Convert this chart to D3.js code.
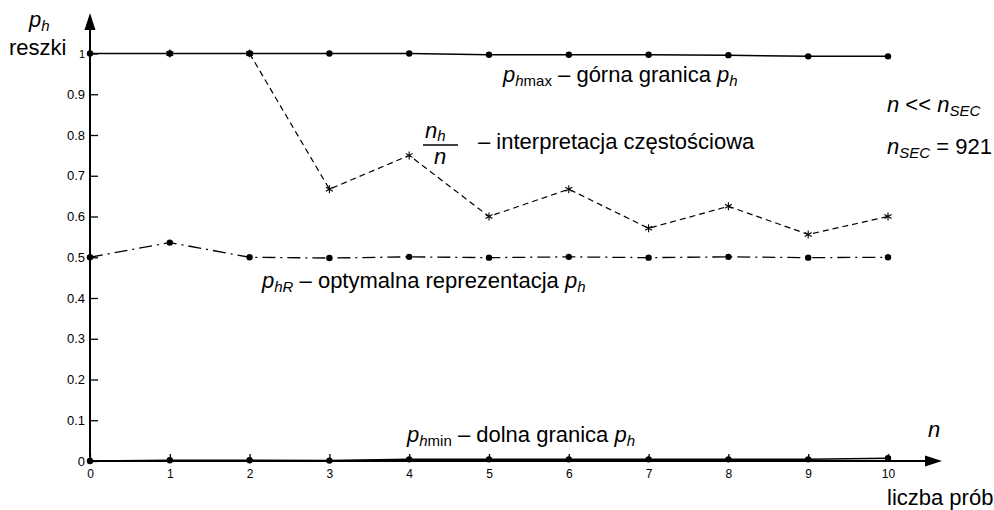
<!DOCTYPE html>
<html>
<head>
<meta charset="utf-8">
<script src="https://cdn.jsdelivr.net/npm/d3@7"></script>
<style>
  body { margin: 0; background: #fff; }
  svg { font-family: "Liberation Sans", Arial, sans-serif; }
</style>
</head>
<body>
<div id="chart"></div>
<script>
// data
var trials = [0, 1, 2, 3, 4, 5, 6, 7, 8, 9, 10];
var phMax = [1, 1, 1, 1, 1, 0.997, 0.997, 0.997, 0.996, 0.993, 0.993];
var freqN = [1, 2, 3, 4, 5, 6, 7, 8, 9, 10];
var freq = [1, 1, 0.667, 0.75, 0.6, 0.667, 0.571, 0.625, 0.556, 0.6];
var phR = [0.5, 0.536, 0.5, 0.498, 0.501, 0.499, 0.501, 0.499, 0.501, 0.499, 0.5];
var phMin = [0, 0.002, 0.002, 0.001, 0.004, 0.004, 0.004, 0.004, 0.004, 0.004, 0.007];
var yTicks = [0, 0.1, 0.2, 0.3, 0.4, 0.5, 0.6, 0.7, 0.8, 0.9, 1];

var width = 994, height = 510;
var svg = d3.select("#chart").append("svg").attr("width", width).attr("height", height);

// scales
var xScale = d3.scaleLinear().domain([0, 10]).range([90, 888]);
var yScale = d3.scaleLinear().domain([0, 1]).range([461, 53.5]);

//y axis, ticks pointing inside
var yAxis = svg.append("g")
  .attr("transform", "translate(90,0)")
  .call(d3.axisLeft(yScale).tickValues(yTicks).tickSizeInner(-8).tickSizeOuter(0)
    .tickPadding(5).tickFormat(function(d) { return d3.format("~g")(d); }));
yAxis.select(".domain").remove();
yAxis.selectAll("text").attr("font-size", 13).attr("font-family", null).attr("fill", "#000");
yAxis.selectAll("line").attr("stroke-width", 1.3);
yAxis.selectAll(".tick").filter(function(d) { return d === 1; }).select("text").attr("font-size", 11);

//x axis
var xAxis = svg.append("g")
  .attr("transform", "translate(0,461)")
  .call(d3.axisBottom(xScale).tickValues(trials).tickSizeInner(-7).tickSizeOuter(0).tickPadding(8));
xAxis.select(".domain").remove();
xAxis.selectAll("text").attr("font-size", 12).attr("font-family", null).attr("fill", "#000");
xAxis.selectAll("line").attr("stroke-width", 1.3);

// axis lines with arrows
svg.append("line").attr("x1", 90).attr("x2", 90).attr("y1", 461).attr("y2", 24)
  .attr("stroke", "#000").attr("stroke-width", 2);
svg.append("path").attr("d", "M90,13 L84.5,30 L95.5,30 Z").attr("fill", "#000");
svg.append("line").attr("x1", 90).attr("x2", 930).attr("y1", 461).attr("y2", 461)
  .attr("stroke", "#000").attr("stroke-width", 2);
svg.append("path").attr("d", "M942,461 L925,455.5 L925,466.5 Z").attr("fill", "#000");

var line = d3.line().x(function(d, i) { return xScale(trials[i]); }).y(function(d) { return yScale(d); });
var freqLine = d3.line().x(function(d, i) { return xScale(freqN[i]); }).y(function(d) { return yScale(d); });

// p_hmin
svg.append("path").datum(phMin).attr("fill", "none").attr("stroke", "#000")
  .attr("stroke-width", 1.5).attr("d", line);
// p_hmax
svg.append("path").datum(phMax).attr("fill", "none").attr("stroke", "#000")
  .attr("stroke-width", 1.5).attr("d", line);
// p_hR dash dot
svg.append("path").datum(phR).attr("fill", "none").attr("stroke", "#000")
  .attr("stroke-width", 1.3).attr("stroke-dasharray", "13,5,2,5").attr("d", line);
// n_h/n dashed
svg.append("path").datum(freq).attr("fill", "none").attr("stroke", "#000")
  .attr("stroke-width", 1.2).attr("stroke-dasharray", "6,4").attr("d", freqLine);

// dots
[phMin, phMax, phR].forEach(function(series) {
  svg.append("g").selectAll("circle").data(series).enter().append("circle")
    .attr("cx", function(d, i) { return xScale(trials[i]); })
    .attr("cy", function(d) { return yScale(d); })
    .attr("r", 3.2).attr("fill", "#000");
});

// asterisk markers
var star = svg.append("g").selectAll("g").data(freq).enter().append("g")
  .attr("transform", function(d, i) { return "translate(" + xScale(freqN[i]) + "," + yScale(d) + ")"; });
[0, 60, 120].forEach(function(a) {
  star.append("line").attr("x1", 0).attr("x2", 0).attr("y1", -4).attr("y2", 4)
    .attr("transform", "rotate(" + a + ")").attr("stroke", "#000").attr("stroke-width", 1.1);
});

// labels
function label(x, y, parts, size) {
  var t = svg.append("text").attr("x", x).attr("y", y).attr("font-size", size || 22).attr("fill", "#000");
  parts.forEach(function(p) {
    var s = t.append("tspan").text(p.t);
    if (p.i) s.attr("font-style", "italic");
    if (p.sub) s.attr("font-size", p.sub).attr("dy", p.dy);
    if (p.up) s.attr("dy", p.up);
  });
  return t;
}

label(29, 27, [{t: "p", i: 1}, {t: "h", i: 1, sub: 15, dy: 4}]);
label(9, 55, [{t: "reszki"}]);

label(503, 82, [{t: "p", i: 1}, {t: "h", i: 1, sub: 15, dy: 4}, {t: "max", sub: 15},
  {t: " – górna granica ", up: -4}, {t: "p", i: 1}, {t: "h", i: 1, sub: 15, dy: 4}]);

label(262, 288, [{t: "p", i: 1}, {t: "hR", i: 1, sub: 15, dy: 4},
  {t: " – optymalna reprezentacja ", up: -4}, {t: "p", i: 1}, {t: "h", i: 1, sub: 15, dy: 4}]);

label(407, 442, [{t: "p", i: 1}, {t: "h", i: 1, sub: 15, dy: 4}, {t: "min", sub: 15},
  {t: " – dolna granica ", up: -4}, {t: "p", i: 1}, {t: "h", i: 1, sub: 15, dy: 4}]);

// fraction n_h / n
label(425, 138, [{t: "n", i: 1}, {t: "h", i: 1, sub: 15, dy: 3}]);
svg.append("line").attr("x1", 423).attr("x2", 458).attr("y1", 145).attr("y2", 145)
  .attr("stroke", "#000").attr("stroke-width", 1.3);
label(434, 164, [{t: "n", i: 1}]);
label(478, 149, [{t: "– interpretacja częstościowa"}]);

label(887, 112, [{t: "n", i: 1}, {t: " << "}, {t: "n", i: 1}, {t: "SEC", i: 1, sub: 15, dy: 4}]);
label(887, 154, [{t: "n", i: 1}, {t: "SEC", i: 1, sub: 15, dy: 4}, {t: " = 921", up: -4}]);

label(928, 437, [{t: "n", i: 1}]);
label(887, 505, [{t: "liczba prób"}]);
</script>
</body>
</html>
